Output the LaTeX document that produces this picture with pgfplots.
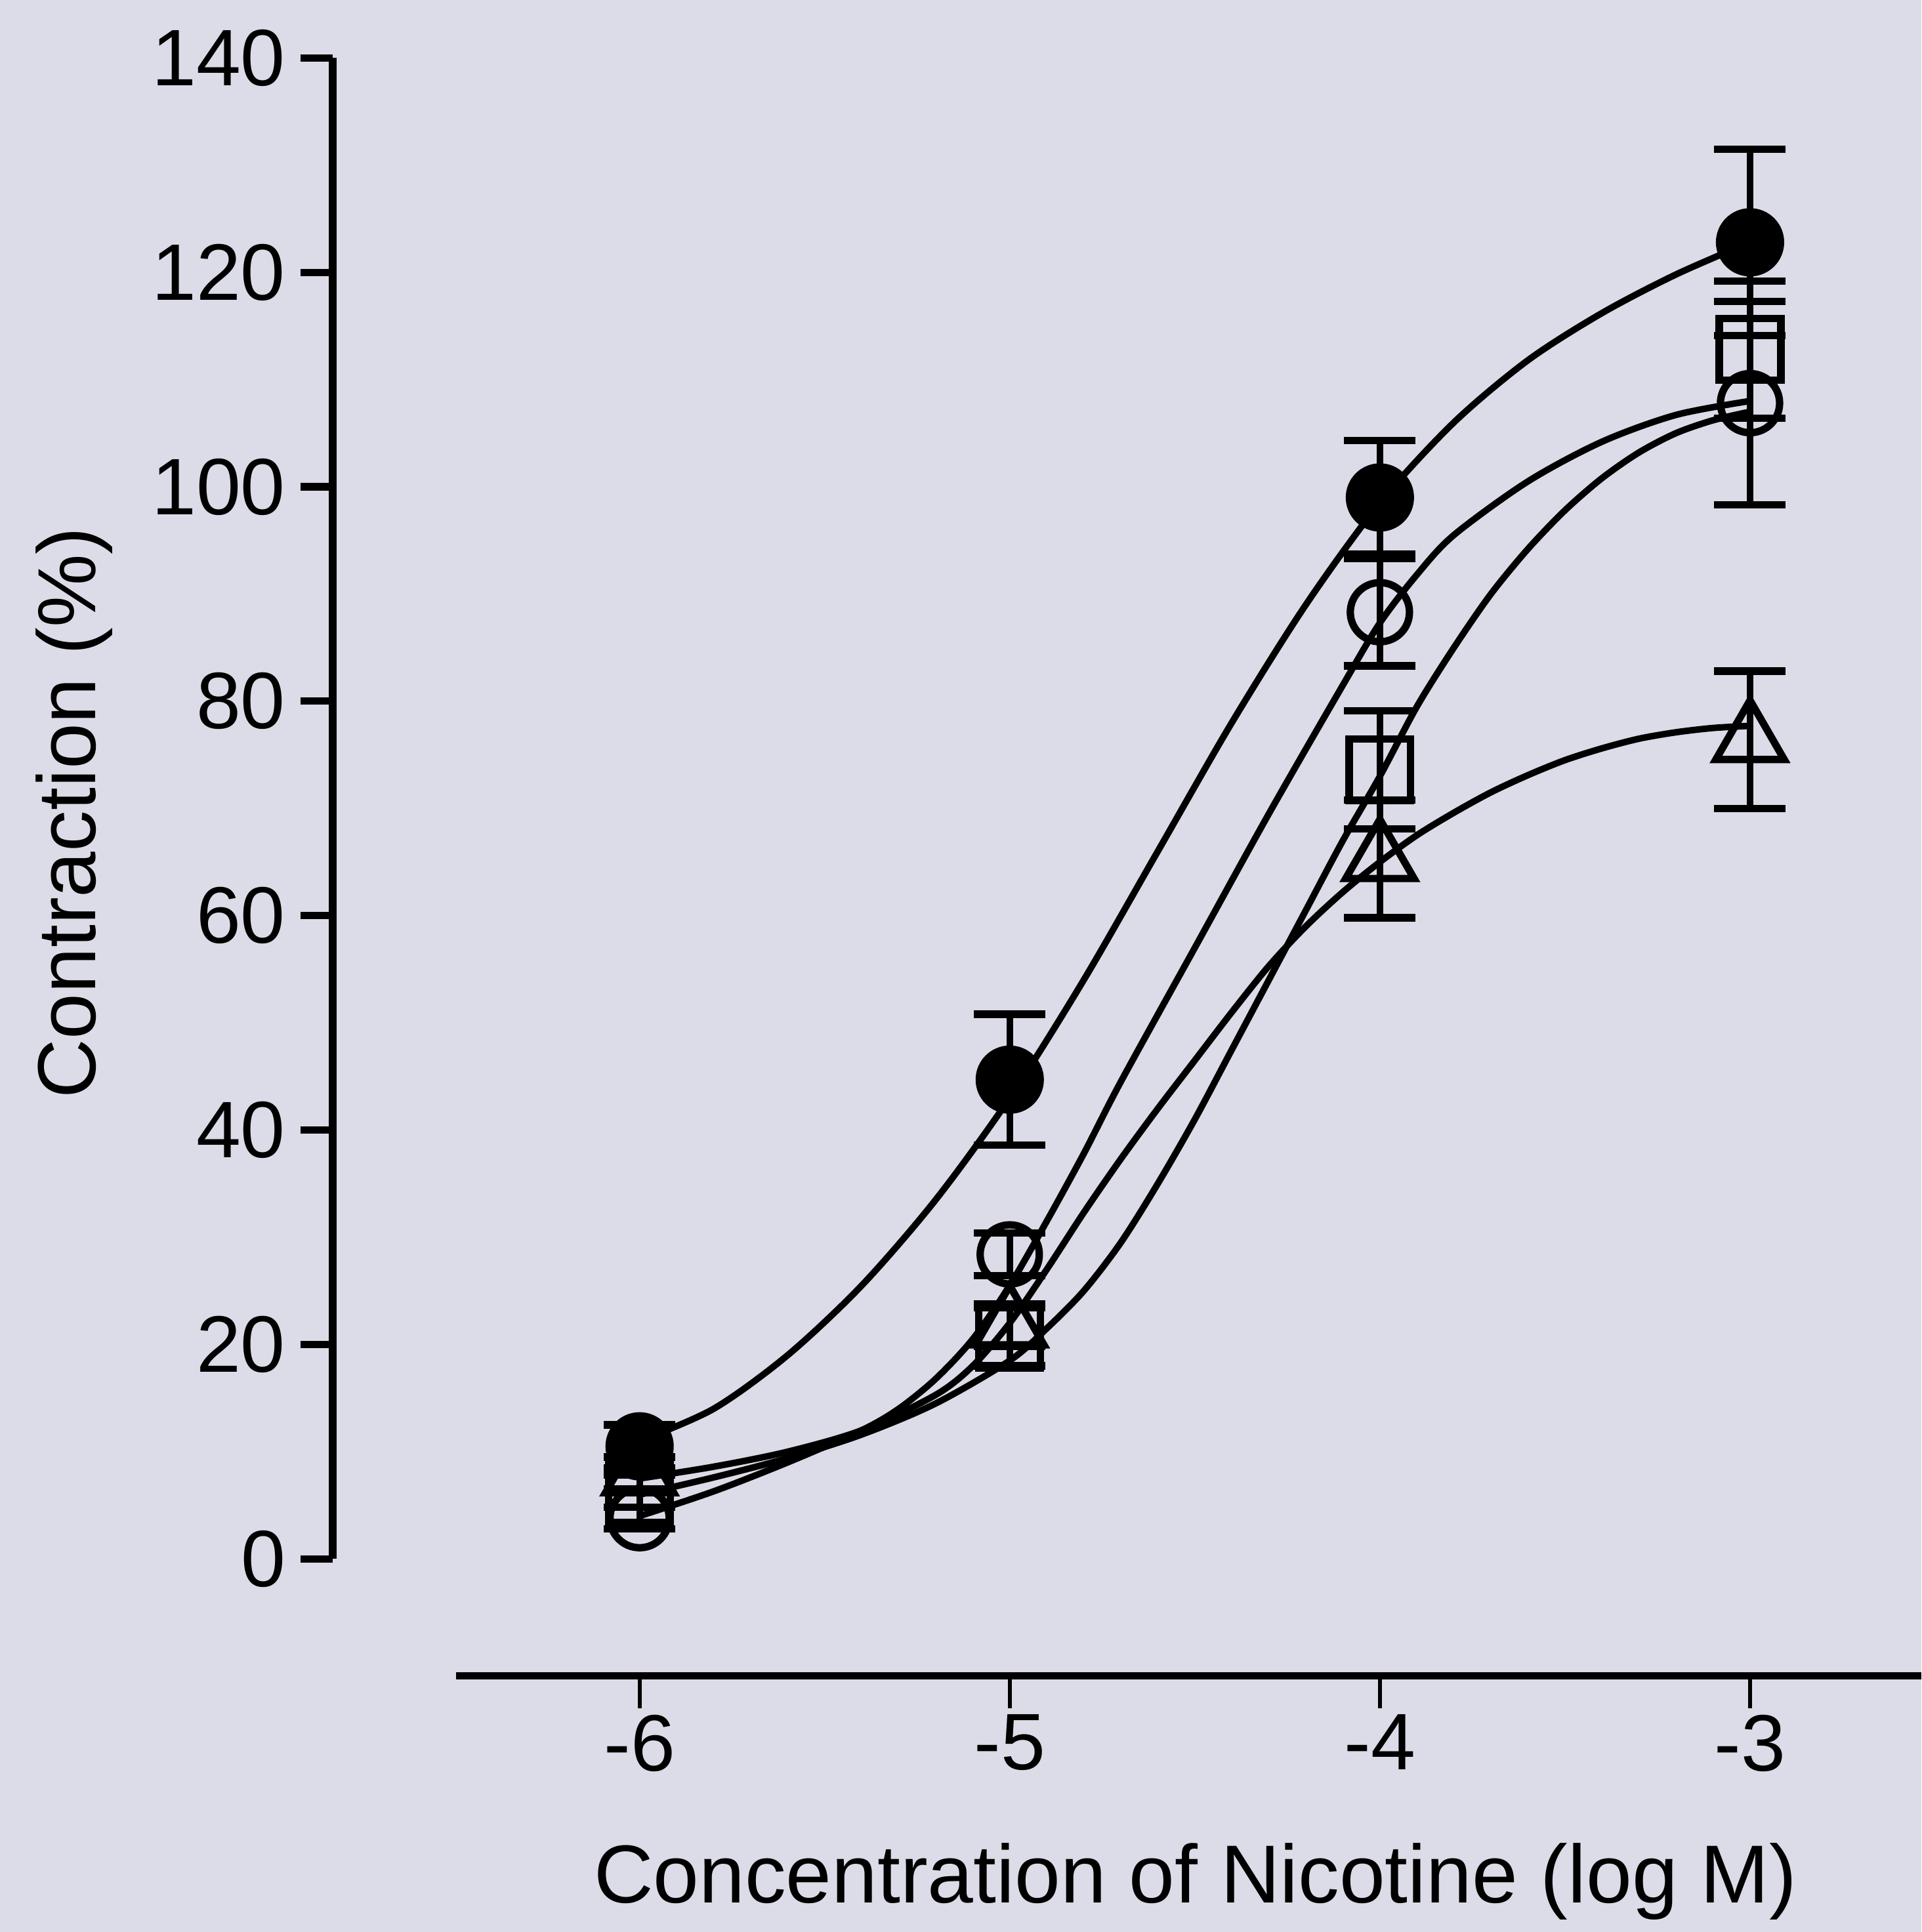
\documentclass[border=0pt]{standalone}
\usepackage{pgfplots}
\pgfplotsset{compat=1.18}
\usepackage{fontspec}
\setmainfont{Liberation Sans}
\definecolor{bg}{RGB}{220,220,232}
\newcommand{\chartfont}{\fontsize{18.5}{21}\selectfont}

% fitted curves
\pgfplotstableread{
x y
-6.00 11.0
-5.80 14.0
-5.60 19.0
-5.40 25.5
-5.20 33.5
-5.00 43.0
-4.80 54.0
-4.60 66.0
-4.40 78.0
-4.20 89.0
-4.00 98.5
-3.80 106.0
-3.60 111.8
-3.40 116.2
-3.20 119.8
-3.00 122.8
}\fitA
\pgfplotstableread{
x y
-6.00 4.0
-5.80 6.3
-5.60 9.0
-5.40 12.0
-5.30 14.0
-5.20 16.8
-5.10 20.5
-5.00 25.5
-4.90 31.5
-4.80 37.8
-4.70 44.5
-4.50 57.0
-4.30 69.5
-4.10 81.5
-4.00 87.3
-3.90 91.8
-3.80 95.5
-3.60 100.5
-3.40 104.2
-3.20 106.7
-3.00 108.0
}\fitB
\pgfplotstableread{
x y
-6.00 6.0
-5.80 7.6
-5.60 9.4
-5.40 11.6
-5.20 14.5
-5.00 18.5
-4.90 21.5
-4.80 25.0
-4.70 29.5
-4.60 35.0
-4.50 41.0
-4.40 47.5
-4.30 54.0
-4.20 60.5
-4.10 67.0
-4.00 73.0
-3.90 79.5
-3.80 85.0
-3.70 90.0
-3.60 94.2
-3.50 97.8
-3.40 100.8
-3.30 103.2
-3.20 105.0
-3.10 106.2
-3.00 107.0
}\fitC
\pgfplotstableread{
x y
-6.00 7.5
-5.80 8.6
-5.60 10.0
-5.40 12.0
-5.20 15.3
-5.10 18.0
-5.00 22.0
-4.90 27.0
-4.80 32.3
-4.70 37.3
-4.60 42.0
-4.50 46.5
-4.40 51.0
-4.30 55.3
-4.20 59.0
-4.10 62.2
-4.00 65.0
-3.90 67.5
-3.80 69.6
-3.70 71.5
-3.60 73.1
-3.50 74.5
-3.40 75.6
-3.30 76.5
-3.20 77.1
-3.10 77.5
-3.00 77.7
}\fitD

% mean and error
\pgfplotstableread{
x y e
-6 10.5 2.0
-5 44.7 6.1
-4 99.0 5.3
-3 122.8 8.7
}\filled
\pgfplotstableread{
x y e
-6 3.8 1.0
-5 28.4 2.0
-4 88.3 5.0
-3 107.8 9.5
}\opencirc
\pgfplotstableread{
x y e
-6 6.3 1.5
-5 20.7 2.7
-4 73.6 5.5
-3 112.8 6.4
}\opensq
\pgfplotstableread{
x y e
-6 8.0 1.5
-5 21.8 2.0
-4 65.3 5.5
-3 76.4 6.4
}\opentri

\pgfplotsset{
  errstyle/.style={only marks,
    error bars/y dir=both, error bars/y explicit,
    error bars/error bar style={line width=1.5pt},
    error bars/error mark options={rotate=90, line width=1.7pt, mark size=0.29cm}},
}

\begin{document}
\begin{tikzpicture}
\fill[bg] (-3.70,-3.03) rectangle (11.89,12.65);
\begin{axis}[
    at={(0,0)}, anchor=south west,
    x=3.003cm, y=0.087cm,
    xmin=-6.496, xmax=-2.537, ymin=0, ymax=140,
    clip=false,
    axis lines=left, axis line style={-, line width=1.7pt},
    axis x line shift=0.95cm, axis y line shift=1.0cm,
    tick align=outside, major tick length=0.26cm,
    xtick={-6,-5,-4,-3}, xticklabels={-6,-5,-4,-3},
    ytick={0,20,...,140},
    xtick style={black, line width=0.9pt},
    ytick style={black, line width=1.7pt},
    xticklabel style={yshift=0.07cm},
    /pgf/number format/assume math mode=true,
    ticklabel style={font=\chartfont},
    label style={font=\fontsize{19}{22}\selectfont},
    xlabel={Concentration of Nicotine (log M)},
    ylabel={Contraction (\%)},
    xlabel style={at={(axis description cs:0.5046,-0.215)}, anchor=center},
    ylabel style={at={(axis description cs:-0.2607,0.497)}, anchor=center},
    every axis plot/.append style={black},
  ]
  \addplot[smooth, line width=1.5pt] table {\fitA};
  \addplot[smooth, line width=1.5pt] table {\fitB};
  \addplot[smooth, line width=1.5pt] table {\fitC};
  \addplot[smooth, line width=1.5pt] table {\fitD};

  \addplot[errstyle, mark=*, mark size=0.27cm, mark options={fill=black}]
    table[y error=e] {\filled};
  \addplot[errstyle, mark=o, mark size=0.24cm, mark options={line width=1.7pt}]
    table[y error=e] {\opencirc};
  \addplot[errstyle, mark=square, mark size=0.25cm, mark options={line width=1.7pt}]
    table[y error=e] {\opensq};
  \addplot[errstyle, mark=triangle, mark size=0.32cm, mark options={line width=1.7pt}]
    table[y error=e] {\opentri};

  \coordinate (bbsw) at (axis cs:-7.728,-34.8);
  \coordinate (bbne) at (axis cs:-2.537,145.4);
\end{axis}
\pgfresetboundingbox
\path[use as bounding box] (bbsw) rectangle (bbne);
\end{tikzpicture}
\end{document}
